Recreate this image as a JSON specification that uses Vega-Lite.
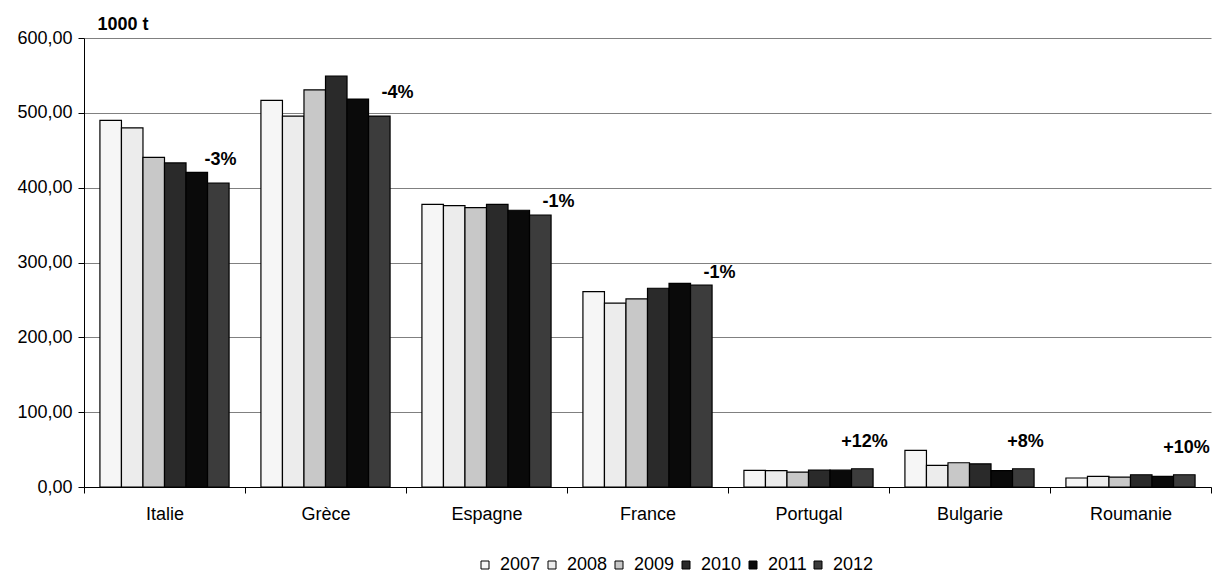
{
  "$schema": "https://vega.github.io/schema/vega-lite/v6.json",
  "width": 1127,
  "height": 449,
  "autosize": {"type": "none"},
  "padding": {"left": 84, "top": 38, "right": 6, "bottom": 88},
  "config": {"view": {"stroke": null}, "font": "Liberation Sans"},
  "datasets": {
    "bars": [
      {"country": "Italie", "year": "2007", "value": 490},
      {"country": "Italie", "year": "2008", "value": 480},
      {"country": "Italie", "year": "2009", "value": 440.6},
      {"country": "Italie", "year": "2010", "value": 433},
      {"country": "Italie", "year": "2011", "value": 420.5},
      {"country": "Italie", "year": "2012", "value": 406},
      {"country": "Grèce", "year": "2007", "value": 516.7},
      {"country": "Grèce", "year": "2008", "value": 495.7},
      {"country": "Grèce", "year": "2009", "value": 530.8},
      {"country": "Grèce", "year": "2010", "value": 549},
      {"country": "Grèce", "year": "2011", "value": 518.4},
      {"country": "Grèce", "year": "2012", "value": 495.7},
      {"country": "Espagne", "year": "2007", "value": 377.8},
      {"country": "Espagne", "year": "2008", "value": 376},
      {"country": "Espagne", "year": "2009", "value": 373.3},
      {"country": "Espagne", "year": "2010", "value": 377.8},
      {"country": "Espagne", "year": "2011", "value": 369.8},
      {"country": "Espagne", "year": "2012", "value": 363.5},
      {"country": "France", "year": "2007", "value": 261},
      {"country": "France", "year": "2008", "value": 245.6},
      {"country": "France", "year": "2009", "value": 251.3},
      {"country": "France", "year": "2010", "value": 265.6},
      {"country": "France", "year": "2011", "value": 272},
      {"country": "France", "year": "2012", "value": 269.7},
      {"country": "Portugal", "year": "2007", "value": 22.2},
      {"country": "Portugal", "year": "2008", "value": 22},
      {"country": "Portugal", "year": "2009", "value": 20},
      {"country": "Portugal", "year": "2010", "value": 22.5},
      {"country": "Portugal", "year": "2011", "value": 22.5},
      {"country": "Portugal", "year": "2012", "value": 24.4},
      {"country": "Bulgarie", "year": "2007", "value": 48.9},
      {"country": "Bulgarie", "year": "2008", "value": 28.8},
      {"country": "Bulgarie", "year": "2009", "value": 32.4},
      {"country": "Bulgarie", "year": "2010", "value": 31},
      {"country": "Bulgarie", "year": "2011", "value": 22},
      {"country": "Bulgarie", "year": "2012", "value": 24.4},
      {"country": "Roumanie", "year": "2007", "value": 12},
      {"country": "Roumanie", "year": "2008", "value": 14.2},
      {"country": "Roumanie", "year": "2009", "value": 13.3},
      {"country": "Roumanie", "year": "2010", "value": 16.4},
      {"country": "Roumanie", "year": "2011", "value": 14.2},
      {"country": "Roumanie", "year": "2012", "value": 16.4}
    ],
    "labels": [
      {"country": "Italie", "label": "-3%", "pos": 436.8},
      {"country": "Grèce", "label": "-4%", "pos": 527},
      {"country": "Espagne", "label": "-1%", "pos": 380.8},
      {"country": "France", "label": "-1%", "pos": 286},
      {"country": "Portugal", "label": "+12%", "pos": 59.8},
      {"country": "Bulgarie", "label": "+8%", "pos": 60},
      {"country": "Roumanie", "label": "+10%", "pos": 51.8}
    ]
  },
  "layer": [
    {
      "data": {"name": "bars"},
      "mark": {"type": "bar", "stroke": "#000000", "strokeWidth": 1.2},
      "encoding": {
        "x": {
          "field": "country", "type": "nominal",
          "scale": {"domain": ["Italie", "Grèce", "Espagne", "France", "Portugal", "Bulgarie", "Roumanie"], "paddingInner": 0, "paddingOuter": 0},
          "axis": {"title": null, "labelAngle": 0, "tickBand": "extent", "tickSize": 6, "labelFontSize": 18, "labelPadding": 12, "labelColor": "#000000", "domainColor": "#000000", "tickColor": "#000000", "grid": false}
        },
        "xOffset": {
          "field": "year", "type": "nominal",
          "scale": {"paddingInner": 0, "paddingOuter": 0.74}
        },
        "y": {
          "field": "value", "type": "quantitative",
          "scale": {"domain": [0, 600], "nice": false},
          "axis": {
            "title": "1000 t", "titleAngle": 0, "titleX": 13, "titleY": -14, "titleAlign": "left", "titleBaseline": "middle",
            "titleFontSize": 18, "titleFontWeight": "bold", "titleColor": "#000000",
            "values": [0, 100, 200, 300, 400, 500, 600],
            "labelExpr": "replace(format(datum.value, '.2f'), '.', ',')",
            "tickSize": 6, "labelFontSize": 18, "labelPadding": 6, "labelColor": "#000000",
            "gridColor": "#808080", "gridWidth": 1, "domainColor": "#000000", "tickColor": "#000000"
          }
        },
        "fill": {
          "field": "year", "type": "nominal",
          "scale": {"domain": ["2007", "2008", "2009", "2010", "2011", "2012"], "range": ["#f6f6f6", "#ececec", "#c8c8c8", "#2a2a2a", "#0a0a0a", "#3c3c3c"]},
          "legend": {
            "orient": "none", "legendX": 392, "legendY": 518, "direction": "horizontal", "title": null,
            "symbolType": "square", "symbolSize": 64, "symbolStrokeColor": "#000000", "symbolStrokeWidth": 1,
            "labelFontSize": 18, "labelOffset": 6, "columnPadding": 2, "labelColor": "#000000", "padding": 0
          }
        }
      }
    },
    {
      "data": {"name": "labels"},
      "transform": [{"filter": "indexof(['Grèce','Espagne','France'], datum.country) < 0"}],
      "mark": {"type": "text", "fontSize": 18, "fontWeight": "bold", "color": "#000000", "dx": 56, "baseline": "middle"},
      "encoding": {
        "x": {"field": "country", "type": "nominal"},
        "y": {"field": "pos", "type": "quantitative"},
        "text": {"field": "label"}
      }
    },
    {
      "data": {"name": "labels"},
      "transform": [{"filter": "indexof(['Grèce','Espagne','France'], datum.country) >= 0"}],
      "mark": {"type": "text", "fontSize": 18, "fontWeight": "bold", "color": "#000000", "dx": 72, "baseline": "middle"},
      "encoding": {
        "x": {"field": "country", "type": "nominal"},
        "y": {"field": "pos", "type": "quantitative"},
        "text": {"field": "label"}
      }
    }
  ]
}
